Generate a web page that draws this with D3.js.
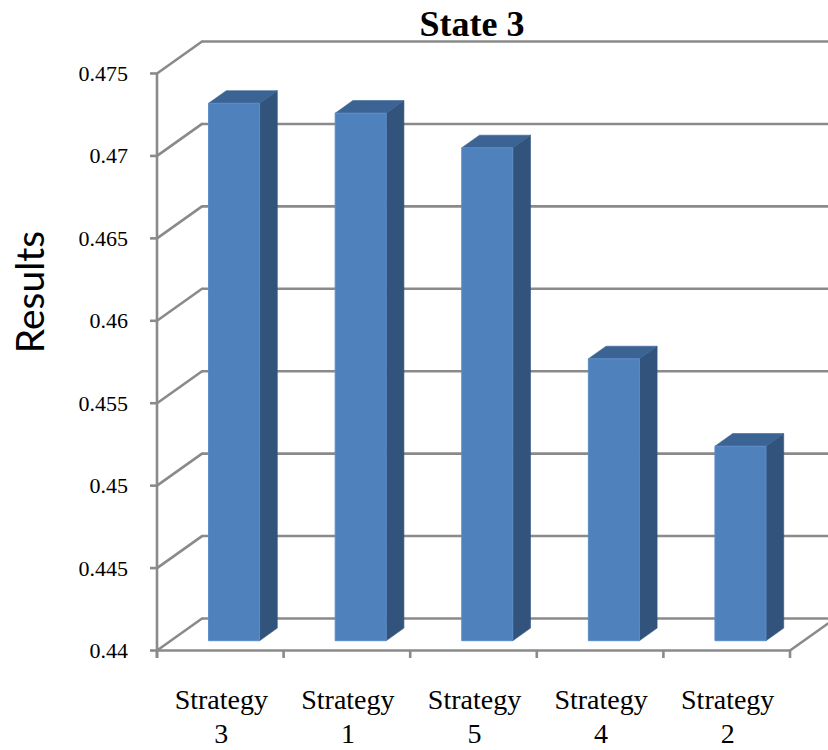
<!DOCTYPE html>
<html>
<head>
<meta charset="utf-8">
<script src="https://cdn.jsdelivr.net/npm/d3@7"></script>
<style>
  html, body { margin: 0; padding: 0; background: #ffffff; }
  svg { display: block; }
</style>
</head>
<body>
<svg id="chart" width="828" height="750"></svg>
<script>
// Category order as drawn, left to right
const categories = [["Strategy", "3"], ["Strategy", "1"], ["Strategy", "5"], ["Strategy", "4"], ["Strategy", "2"]];
const results = [0.4726, 0.4720, 0.4699, 0.4571, 0.4518];
const yTicks = [0.44, 0.445, 0.45, 0.455, 0.46, 0.465, 0.47, 0.475];
const tickLabels = ["0.44", "0.445", "0.45", "0.455", "0.46", "0.465", "0.47", "0.475"];
const chartTitle = "State 3";
const yTitle = "Results";

const svg = d3.select("#chart");

// front plane of the plot box
const x0 = 157, x1 = 790;
const yTop = 73.5, yBot = 650.5;
// depth vector of the 3D box (front -> back)
const depthX = 45, depthY = -32;

const y = d3.scaleLinear().domain([0.44, 0.475]).range([yBot, yTop]);
const x = d3.scaleBand().domain(d3.range(categories.length)).range([x0, x1]).paddingInner(0).paddingOuter(0);

const grid = "#8a8a8a";
const gw = 2.6;

// project a point given front x, value and depth fraction
const P = (px, v, d) => [px + d * depthX, y(v) + d * depthY];

const walls = svg.append("g");

// back wall gridlines and side wall diagonals
yTicks.forEach(t => {
  const [bx, by] = P(x0, t, 1);
  const [ex] = P(x1, t, 1);
  walls.append("line").attr("x1", bx).attr("y1", by).attr("x2", ex).attr("y2", by)
    .attr("stroke", grid).attr("stroke-width", gw);
  walls.append("line").attr("x1", x0).attr("y1", y(t)).attr("x2", bx).attr("y2", by)
    .attr("stroke", grid).attr("stroke-width", gw).attr("stroke-linecap", "round");
});

// floor front edge and right edge
const [fx, fy] = P(x1, 0.44, 1);
walls.append("line").attr("x1", x0).attr("y1", yBot).attr("x2", x1).attr("y2", yBot)
  .attr("stroke", grid).attr("stroke-width", gw);
walls.append("line").attr("x1", x1).attr("y1", yBot).attr("x2", fx).attr("y2", fy)
  .attr("stroke", grid).attr("stroke-width", gw).attr("stroke-linecap", "round");

// value axis
walls.append("line").attr("x1", x0).attr("y1", yTop).attr("x2", x0).attr("y2", yBot + 7.5)
  .attr("stroke", grid).attr("stroke-width", gw);
yTicks.forEach((t, i) => {
  walls.append("line").attr("x1", x0 - 7).attr("y1", y(t)).attr("x2", x0).attr("y2", y(t))
    .attr("stroke", grid).attr("stroke-width", gw);
  svg.append("text").attr("x", 128).attr("y", y(t) + 7.5)
    .attr("text-anchor", "end")
    .attr("font-family", "'Liberation Serif', 'Times New Roman', serif")
    .attr("font-size", 22).attr("fill", "#000")
    .text(tickLabels[i]);
});

// category ticks
d3.range(categories.length + 1).forEach(i => {
  const tx = x0 + i * x.bandwidth();
  walls.append("line").attr("x1", tx).attr("y1", yBot).attr("x2", tx).attr("y2", yBot + 7.5)
    .attr("stroke", grid).attr("stroke-width", gw);
});

// bars
const dFront = 0.306, dBack = 0.70;
const barFrac = 0.403;
const bars = svg.append("g");
results.forEach((v, i) => {
  const bw = x.bandwidth() * barFrac;
  const cx = x(i) + x.bandwidth() / 2;
  const left = cx - bw / 2, right = cx + bw / 2;
  const fl = P(left, v, dFront), fr = P(right, v, dFront);
  const flb = P(left, 0.44, dFront), frb = P(right, 0.44, dFront);
  const bl = P(left, v, dBack), br = P(right, v, dBack);
  const brb = P(right, 0.44, dBack);
  const poly = pts => pts.map(p => p.join(",")).join(" ");
  // side face
  bars.append("polygon").attr("points", poly([fr, br, brb, frb]))
    .attr("fill", "#32547c").attr("stroke", "#32547c").attr("stroke-width", 0.6);
  // top face
  bars.append("polygon").attr("points", poly([fl, bl, br, fr]))
    .attr("fill", "#3b6394").attr("stroke", "#3b6394").attr("stroke-width", 0.6);
  // front face
  bars.append("polygon").attr("points", poly([fl, fr, frb, flb]))
    .attr("fill", "#4f81bd").attr("stroke", "#5b8cc6").attr("stroke-width", 1);
});

// category labels
categories.forEach((lines, i) => {
  const t = svg.append("text")
    .attr("x", x(i) + x.bandwidth() / 2 + 1)
    .attr("y", 709)
    .attr("text-anchor", "middle")
    .attr("font-family", "'Liberation Serif', 'Times New Roman', serif")
    .attr("font-size", 28).attr("fill", "#000");
  lines.forEach((ln, j) => {
    t.append("tspan").attr("x", x(i) + x.bandwidth() / 2 + 1).attr("dy", j === 0 ? 0 : 34).text(ln);
  });
});

// title
svg.append("text").attr("x", 472).attr("y", 36)
  .attr("text-anchor", "middle")
  .attr("font-family", "'Liberation Serif', 'Times New Roman', serif")
  .attr("font-weight", "bold").attr("font-size", 36).attr("fill", "#000")
  .text(chartTitle);

// value axis title
svg.append("text")
  .attr("transform", "translate(44,292) rotate(-90)")
  .attr("text-anchor", "middle")
  .attr("font-family", "Lato, 'Open Sans', sans-serif")
  .attr("font-size", 39).attr("fill", "#000")
  .text(yTitle);
</script>
</body>
</html>
